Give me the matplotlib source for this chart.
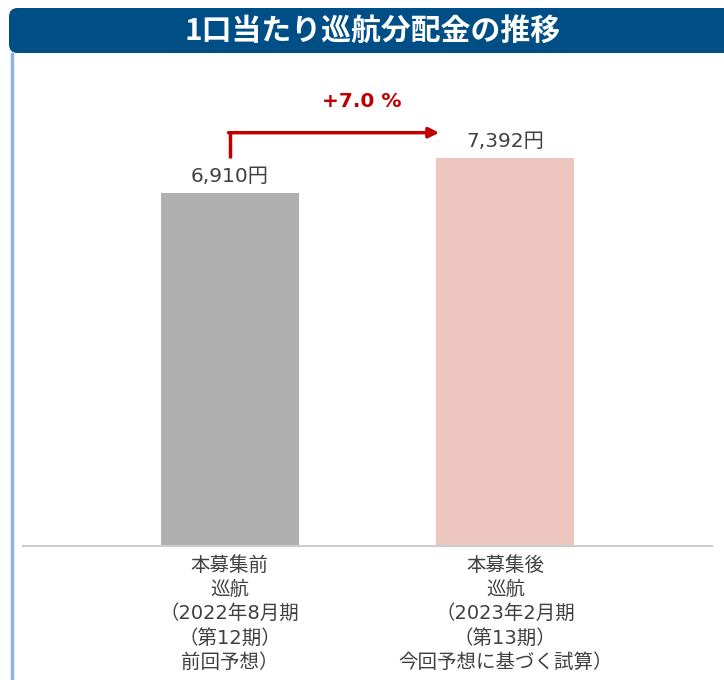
import matplotlib
matplotlib.use("Agg")
import matplotlib.pyplot as plt
from matplotlib.patches import FancyBboxPatch
from matplotlib.lines import Line2D

plt.rcParams['font.family'] = ['DejaVu Sans', 'Noto Sans CJK JP']

title = "1口当たり巡航分配金の推移"
categories = ["本募集前\n巡航\n（2022年8月期\n（第12期）\n前回予想）",
              "本募集後\n巡航\n（2023年2月期\n（第13期）\n今回予想に基づく試算）"]
values = [6910, 7392]
value_labels = ["6,910円", "7,392円"]
change_label = "+7.0 %"
bar_colors = ["#B0B0B0", "#EEC6C0"]

W, H = 724, 680
fig = plt.figure(figsize=(W / 100, H / 100), dpi=100)

# Title bar
bar = FancyBboxPatch((9 / W, (H - 53) / H), (W + 20 - 9) / W, 45 / H,
                     boxstyle="round,pad=0,rounding_size=0.012",
                     transform=fig.transFigure, facecolor="#004E86",
                     edgecolor="none", mutation_aspect=W / H)
fig.patches.append(bar)
fig.text(373 / W, (H - 31) / H, title, color="white", fontsize=21.5,
         fontweight="bold", ha="center", va="center",
         family=['Noto Sans CJK JP', 'DejaVu Sans'])

# Left border line
fig.add_artist(Line2D([12 / W, 12 / W], [0, (H - 54) / H], transform=fig.transFigure,
                      color="#8DB3E2", lw=2.5))

ax = fig.add_axes([23 / W, (H - 546) / H, (712 - 23) / W, (546 - 60) / H])
x = list(range(len(values)))
ax.bar(x, values, width=0.5, color=bar_colors)
ax.set_xlim(-0.75, 1.75)
ax.set_ylim(2050, 8743)

for xi, v, lab in zip(x, values, value_labels):
    ax.annotate(lab, (xi, v), xytext=(0, 5), textcoords="offset points",
                ha="center", va="bottom", fontsize=14.5, color="#404040")

# Arrow
red = "#C00000"
y_h = values[1] + 350
ax.plot([x[0], x[0]], [values[0] + 490, y_h], color=red, lw=2.5,
        solid_capstyle="butt")
ax.annotate("", xy=(x[1] - 0.24, y_h), xytext=(x[0] - 0.004, y_h),
            arrowprops=dict(arrowstyle="-|>,head_length=0.6,head_width=0.3",
                            color=red, lw=2.5, shrinkA=0, shrinkB=0))
ax.text(0.48, y_h + 430, change_label, color=red, fontsize=14.5,
        fontweight="bold", ha="center", va="center")

for s in ["top", "left", "right"]:
    ax.spines[s].set_visible(False)
ax.spines["bottom"].set_color("#CCCCCC")
ax.spines["bottom"].set_linewidth(1.5)
ax.set_yticks([])
ax.set_xticks(x, categories, fontsize=14, color="#404040", linespacing=1.35)
ax.tick_params(axis="x", length=0, pad=7)

fig.savefig("out.png", dpi=100)
